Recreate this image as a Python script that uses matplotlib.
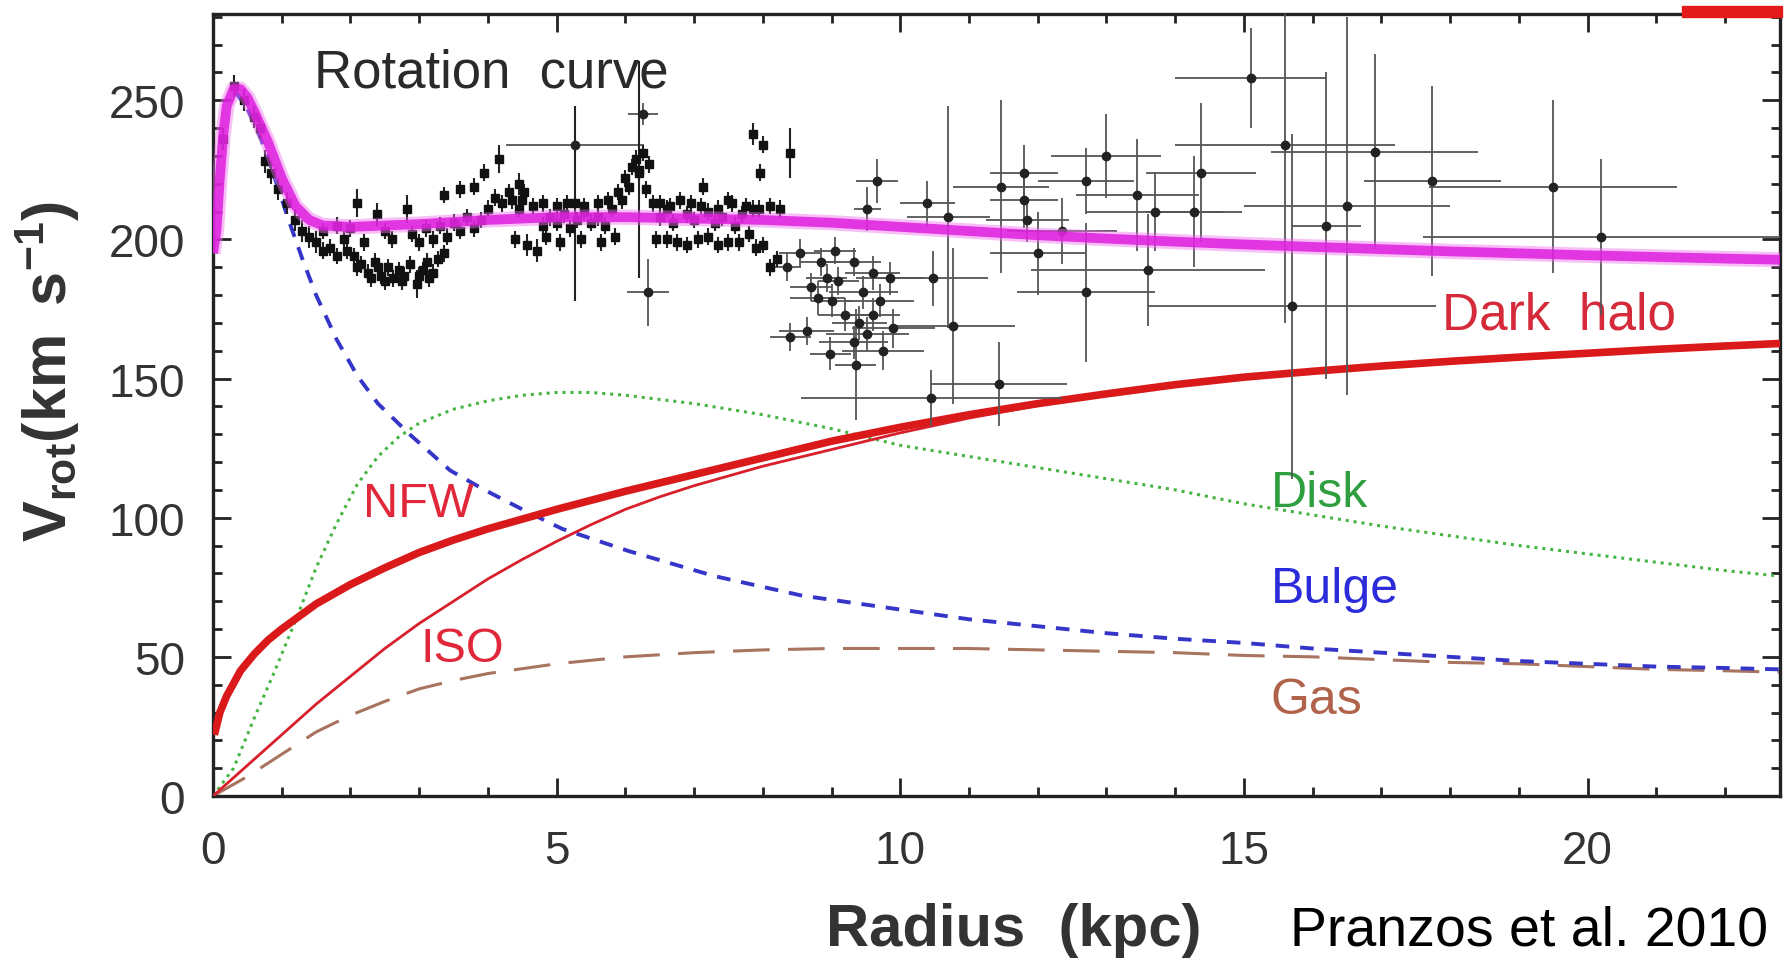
import matplotlib
matplotlib.use("Agg")
import matplotlib.pyplot as plt
from matplotlib import font_manager
from matplotlib.ticker import MultipleLocator
from matplotlib.patches import Rectangle

# ---- fonts -------------------------------------------------------------
_names = {f.name for f in font_manager.fontManager.ttflist}
NARROW = "Liberation Sans Narrow" if "Liberation Sans Narrow" in _names else "Liberation Sans"
plt.rcParams["font.family"] = ["Liberation Sans", "DejaVu Sans"]
plt.rcParams["mathtext.fontset"] = "custom"
plt.rcParams["mathtext.rm"] = "Liberation Sans"
plt.rcParams["mathtext.bf"] = "Liberation Sans:bold"
plt.rcParams["mathtext.it"] = "Liberation Sans:italic"

# ---- model components (radius in kpc, velocity in km/s) -----------------
total_r = [0.0, 0.05, 0.1, 0.15, 0.2, 0.3, 0.4, 0.5, 0.6, 0.8, 1.0, 1.2, 1.4, 1.6, 2.0,
           3.0, 4.0, 5.0, 6.0, 7.0, 8.0, 9.0, 10, 11, 12, 13, 14, 15, 16, 17, 18,
           19, 20, 21, 22, 22.8]
total_v = [195, 203, 222, 238, 248, 254, 254, 251, 246, 235, 222, 212, 207, 205, 204.5,
           205.5, 207, 208, 208, 207.5, 207, 206, 204.5, 203, 201.5, 200.3, 199.2, 198.2,
           197.3, 196.5, 195.7, 195, 194.3, 193.7, 193.1, 192.7]

nfw_r = [0.02, 0.1, 0.2, 0.4, 0.6, 0.8, 1.0, 1.5, 2.0, 2.5, 3.0, 3.5, 4.0, 4.5, 5.0,
         6.0, 7.0, 8.0, 9.0, 10, 11, 12, 13, 14, 15, 16, 17, 18, 19, 20, 21, 22, 22.8]
nfw_v = [22, 30, 36, 45, 51, 56, 60, 69, 76, 82, 87.5, 92, 96, 99.5, 103,
         109.5, 115.5, 121.5, 127.5, 132.5, 137, 141, 144.5, 147.8, 150.5, 152.6,
         154.5, 156.2, 157.7, 159.1, 160.5, 161.7, 162.6]

iso_r = [0.0, 0.5, 1.0, 1.5, 2.0, 2.5, 3.0, 3.5, 4.0, 4.5, 5.0, 5.5, 6.0, 6.5, 7.0,
         8.0, 9.0, 10, 11, 12, 13, 14, 15, 16, 17, 18, 19, 20, 21, 22, 22.8]
iso_v = [0, 11, 22, 33, 43, 53, 62, 70, 78, 85, 91.5, 97.5, 103, 107.5, 111.5,
         118.5, 124.5, 130.5, 135.8, 140.3, 144.2, 147.6, 150.5, 152.6, 154.5,
         156.2, 157.7, 159.1, 160.5, 161.7, 162.6]

disk_r = [0.0, 0.3, 0.6, 0.9, 1.2, 1.5, 1.8, 2.1, 2.4, 2.7, 3.0, 3.5, 4.0, 4.5, 5.0,
          5.5, 6.0, 7.0, 8.0, 9.0, 10, 11, 12, 13, 14, 15, 16, 17, 18, 19, 20, 21,
          22, 22.8]
disk_v = [0, 10, 28, 45, 63, 82, 98, 112, 122, 129, 134, 139, 142, 144, 145, 145,
          144, 141, 137, 132, 126, 122, 118, 114, 110, 105, 101, 97, 93.5, 90, 87,
          84, 81, 79]

bulge_r = [0.3, 0.5, 0.7, 0.9, 1.1, 1.3, 1.5, 1.8, 2.1, 2.4, 2.86, 3.45, 3.95, 4.5,
           5.08, 6.05, 7.3, 8.57, 10, 11, 12, 13, 14, 15, 16, 17, 18, 19, 20, 21,
           22, 22.8]
bulge_v = [254, 247, 236, 222, 207, 193, 180, 164, 151, 141, 130, 117, 110, 103, 96,
           88, 79, 72, 67, 63.5, 61, 58.5, 56.5, 55, 53, 51.5, 50, 48.5, 47.5, 46.5,
           46, 45.5]

gas_r = [0.0, 0.5, 1.0, 1.5, 2.0, 2.5, 3.0, 3.5, 4.0, 5.0, 6.0, 7.0, 8.0, 9.0, 10,
         11, 12, 13, 14, 15, 16, 17, 18, 19, 20, 21, 22, 22.8]
gas_v = [0, 7, 15, 23, 29, 34, 38.5, 41.5, 44, 47.5, 50, 51.5, 52.5, 53, 53, 53,
         52.5, 52, 51.5, 50.5, 50, 49, 48, 47.5, 46.5, 45.5, 45, 44.5]

# ---- inner rotation-curve measurements (small errors) ----------------------
inner_r = [0.15, 0.30, 0.45, 0.60, 0.69, 0.76, 0.85, 0.95, 1.08, 1.20, 1.30, 1.40, 1.50,
           1.60, 1.70, 1.80, 1.90, 2.00, 2.09, 2.20, 2.38, 2.50, 2.60, 2.82, 2.90, 3.00,
           3.10, 3.20, 3.30, 3.40, 3.50, 3.60, 3.70, 3.80, 3.90,
           1.60, 1.80, 1.95,
           2.05, 2.15, 2.25, 2.35, 2.45, 2.55, 2.62, 2.70, 2.78, 2.86, 2.97, 3.05, 3.12,
           3.20, 3.28, 3.36, 2.10, 2.30, 2.50, 2.75, 3.00, 3.15, 2.40,
           3.36, 3.60, 3.80, 3.94, 4.16,
           4.00, 4.10, 4.20, 4.30, 4.35, 4.45, 4.57, 4.72, 4.80, 4.90, 5.00, 5.10, 5.20,
           5.30, 5.40, 5.50, 5.60, 5.70, 5.80, 5.90, 6.00, 6.05, 6.10, 6.15, 6.20, 6.30,
           6.40, 6.25, 6.35, 4.45, 4.52,
           4.50, 4.65, 4.80, 5.00, 5.15, 5.40, 5.60, 5.75, 5.95, 6.50, 6.65, 6.95, 7.10,
           7.35, 7.55, 7.75, 7.95, 8.10, 8.25,
           4.40, 4.85, 5.05, 5.35, 5.65, 5.85, 6.45, 6.75, 7.05, 7.35, 7.65, 8.00,
           6.50, 6.60, 6.70, 6.80, 6.90, 7.00, 7.13, 7.20, 7.30, 7.40, 7.50, 7.60, 7.70,
           7.85, 7.96, 6.60, 6.90, 7.20, 7.50, 7.80, 7.90, 8.10, 8.20,
           7.86, 8.00, 8.40, 5.27, 6.20]
inner_v = [236, 255, 250, 244, 240, 228, 224, 218, 213, 207, 203, 201, 199,
           203, 197, 205, 200, 204, 213, 199, 209, 203, 200, 211, 202, 199,
           204, 200, 205, 201, 206, 203, 208, 204, 207,
           196, 194, 196,
           194, 191, 188, 192, 187, 190, 186, 189, 187, 191, 184, 189, 192,
           188, 193, 195, 190, 186, 185, 185, 187, 186, 190,
           216, 218, 219, 224, 229,
           211, 215, 213, 217, 214, 211, 198, 196, 205, 208, 206, 209, 204,
           207, 210, 206, 208, 205, 211, 217, 222, 219, 226, 229, 224, 218,
           213, 231, 227, 220, 217,
           214, 212, 213, 212, 213, 212, 213, 214, 214, 213, 212, 213, 212,
           211, 213, 212, 211, 212, 211,
           200, 201, 199, 200, 199, 201, 200, 199, 200, 198, 199, 198,
           208, 211, 206, 214, 209, 207, 219, 210, 206, 208, 214, 205, 209,
           211, 224, 200, 198, 201, 199, 202, 197, 190, 193,
           238, 234, 231, 213, 225]
inner_err = [4, 4, 4, 4, 4, 4, 4, 4, 4, 4, 4, 4, 4,
             3, 3, 3, 3, 3, 5, 3, 4, 3, 3, 5, 3, 3,
             3, 3, 3, 3, 3, 3, 3, 3, 3,
             3, 3, 3,
             3, 3, 3, 3, 3, 3, 3, 3, 3, 3, 5, 3, 3,
             3, 3, 3, 3, 3, 3, 3, 3, 3, 3,
             3, 3, 3, 3, 5,
             3, 3, 3, 3, 3, 3, 4, 4, 3, 3, 3, 3, 3,
             3, 3, 3, 3, 3, 3, 3, 3, 3, 3, 3, 3, 3,
             3, 3, 3, 4, 3,
             3, 3, 3, 3, 3, 3, 3, 3, 3, 3, 3, 3, 3,
             3, 3, 3, 3, 3, 3,
             3, 3, 3, 3, 3, 3, 3, 3, 3, 3, 3, 3,
             3, 3, 3, 3, 3, 3, 3, 3, 3, 3, 3, 3, 3,
             3, 3, 3, 3, 3, 3, 3, 3, 3, 3,
             4, 3, 9, 35, 39]

# ---- outer measurements (errors in both radius and velocity) ---------------
outer_r = [5.27, 6.26, 6.33,
           8.35, 8.54, 8.84, 8.80, 8.93, 9.32, 9.46, 9.60, 9.52, 9.32, 8.98, 8.40, 8.64,
           9.85, 9.90, 9.70, 9.20, 9.00, 9.52, 9.66, 9.10, 9.40, 9.75, 8.70, 9.05, 9.60,
           9.35,
           10.39, 10.70, 11.46, 11.80, 10.48, 10.77, 11.43, 10.45, 13.00, 11.80, 12.70,
           11.85, 13.45, 14.37, 14.27, 13.70, 15.10, 15.60, 16.90, 16.50, 15.70, 13.60,
           12.70, 12.00, 12.35, 16.20, 17.74, 19.50, 20.20]
outer_v = [234, 245, 181,
           190, 195, 192, 179, 186, 192, 181, 173, 166, 163, 159, 165, 167,
           186, 168, 178, 173, 178, 211, 221, 185, 170, 160, 183, 196, 188,
           155,
           213, 208, 219, 214, 186, 169, 148, 143, 230, 224, 221,
           207, 216, 224, 210, 210, 258, 234, 231.5, 212, 176, 189,
           181, 195, 203, 205, 221, 219, 201]
outer_verr = [4, 4, 12,
              5, 5, 5, 6, 5, 5, 6, 6, 6, 6, 6, 5, 5,
              6, 7, 6, 6, 6, 8, 8, 5, 6, 7, 5, 5, 6,
              20,
              8, 40, 31, 10, 10, 28, 15, 10, 15, 10, 12,
              8, 20, 25, 20, 14, 18, 64, 35, 68, 62, 20,
              25, 15, 12, 55, 34, 31, 28]
outer_rerr = [1.0, 0.22, 0.3,
              0.2, 0.3, 0.3, 0.4, 0.3, 0.4, 0.5, 0.4, 0.6, 0.5, 0.3, 0.3, 0.4,
              0.5, 0.6, 0.5, 0.4, 0.3, 0.2, 0.3, 0.3, 0.4, 0.6, 0.3, 0.3, 0.4,
              0.3,
              0.4, 0.6, 0.7, 0.5, 0.8, 0.9, 1.0, 1.9, 0.8, 0.5, 0.7,
              0.6, 0.9, 0.8, 0.7, 1.0, 1.1, 1.6, 1.5, 1.5, 2.1, 1.7,
              1.0, 0.7, 0.8, 0.5, 1.0, 1.8, 2.6]

# ---- figure ------------------------------------------------------------------
W, H = 1791, 962
fig = plt.figure(figsize=(W / 100, H / 100), dpi=100)
ax = fig.add_axes([213 / W, 1 - 797 / H, (1780 - 213) / W, (797 - 15) / H])

# component curves
ax.plot(gas_r, gas_v, color="#A8735F", lw=2.2, ls=(0, (12, 6)), zorder=2)
ax.plot(disk_r, disk_v, color="#45B545", lw=2.2, ls=(0, (1, 1.6)), zorder=2)
ax.plot(bulge_r, bulge_v, color="#3535C8", lw=2.8, ls=(0, (3.5, 2.8)), zorder=2)
ax.plot(iso_r, iso_v, color="#D8202C", lw=2.0, zorder=3)
ax.plot(nfw_r, nfw_v, color="#DA1A1A", lw=5.5, zorder=3, solid_capstyle="butt")

# measurements
ax.errorbar(outer_r, outer_v, yerr=outer_verr, xerr=outer_rerr, fmt="o", ms=6,
            color="#222222", ecolor="#555555", elinewidth=1.3, capsize=0, zorder=4)
ax.errorbar(inner_r, inner_v, yerr=inner_err, fmt="s", ms=5.5, color="#111111",
            ecolor="#222222", elinewidth=1.5, capsize=0, zorder=4)

# total rotation curve on top
ax.plot(total_r, total_v, color="#F070F0", lw=11, alpha=0.45, zorder=5,
        solid_capstyle="butt")
ax.plot(total_r, total_v, color="#DD1EDD", lw=7, alpha=0.85, zorder=6,
        solid_capstyle="butt")

# ---- axes styling ------------------------------------------------------------
ax.set_xlim(0, 22.8)
ax.set_ylim(0, 281)
ax.xaxis.set_major_locator(MultipleLocator(5))
ax.xaxis.set_minor_locator(MultipleLocator(1))
ax.yaxis.set_major_locator(MultipleLocator(50))
ax.yaxis.set_minor_locator(MultipleLocator(10))
ax.tick_params(which="both", direction="in", top=True, right=True,
               width=2.0, color="#222222")
ax.tick_params(which="major", length=13)
ax.tick_params(which="minor", length=6.5)
ax.tick_params(axis="x", which="major", pad=24)
ax.tick_params(axis="y", which="major", pad=20)
for lab in ax.get_xticklabels() + ax.get_yticklabels():
    lab.set_fontfamily(NARROW)
    lab.set_fontsize(33)
    lab.set_color("#333333")
for sp in ax.spines.values():
    sp.set_linewidth(2.4)
    sp.set_color("#222222")

ax.set_xlabel("Radius  (kpc)", fontsize=43, fontweight="bold", color="#333333")
ax.xaxis.set_label_coords((1014 - 213) / (1780 - 213), (797 - 903) / (797 - 15))
ax.set_ylabel(r"$\mathbf{V_{rot}(km\;\;s^{-1})}$", fontsize=44, color="#333333")
ax.yaxis.set_label_coords((82 - 213) / (1780 - 213), (797 - 371) / (797 - 15))

# ---- in-plot annotations -----------------------------------------------------
ax.text(1.47, 260, "Rotation  curve", fontsize=38, color="#2A2A2A", va="center")
ax.text(17.88, 173, "Dark  halo", fontsize=37, color="#D42A3A", va="center")
ax.text(2.18, 105, "NFW", fontsize=35, color="#E0283A", va="center")
ax.text(3.02, 53, "ISO", fontsize=35, color="#E0283A", va="center")
ax.text(15.39, 109, "Disk", fontsize=36, color="#2E9E3E", va="center")
ax.text(15.39, 74.5, "Bulge", fontsize=36, color="#2B2BD9", va="center")
ax.text(15.39, 34.5, "Gas", fontsize=36, color="#B0634A", va="center")

# citation along the bottom edge
fig.text(1290 / W, 1 - 946 / H, "Pranzos et al. 2010", fontsize=40,
         color="black", va="baseline", ha="left")

# small red bar at the top-right corner
fig.patches.append(Rectangle((1682 / W, 1 - 18 / H), 100 / W, 11 / H,
                             transform=fig.transFigure, color="#E41B1B", zorder=10))

fig.savefig("out.png", dpi=100)
